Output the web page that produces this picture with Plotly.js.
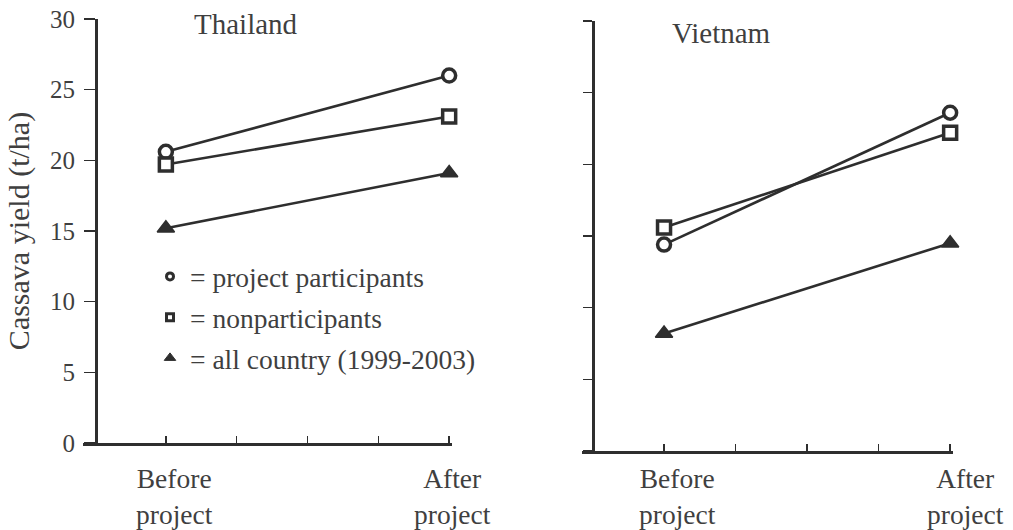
<!DOCTYPE html>
<html>
<head>
<meta charset="utf-8">
<script src="https://cdn.plot.ly/plotly-3.0.1.min.js"></script>
<style>
  html, body { margin: 0; padding: 0; background: #fff; }
  #chart { width: 1013px; height: 530px; }
</style>
</head>
<body>
<div id="chart"></div>
<script>
// Cassava yield before and after the project, two countries
const stages = ['Before<br>project', 'After<br>project'];
const panelTitles = ['Thailand', 'Vietnam'];
const seriesNames = ['= project participants', '= nonparticipants', '= all country (1999-2003)'];

const thailandParticipants = [20.6, 26.0];
const thailandNonparticipants = [19.7, 23.1];
const thailandAllCountry = [15.2, 19.1];

const vietnamParticipants = [14.4, 23.6];
const vietnamNonparticipants = [15.6, 22.2];
const vietnamAllCountry = [8.2, 14.5];

const yTickValues = [0, 5, 10, 15, 20, 25, 30];

// stage index -> position on the 0..5 axis (before = 1, after = 5)
const stageX = stages.map((_, i) => 1 + 4 * i);

const INK = '#2e2e2e';
const TEXT = '#3f3f3f';
const FONT = 'Liberation Serif, Times New Roman, serif';

const markerStyles = [
  { symbol: 'circle', size: 13, color: '#fff', line: { color: INK, width: 3.5 } },
  { symbol: 'square', size: 13, color: '#fff', line: { color: INK, width: 3.5 } },
  { symbol: 'triangle-up', size: 15, color: INK, line: { color: INK, width: 1.5 } }
];
const legendMarkers = [
  { symbol: 'circle', size: 7, color: '#fff', line: { color: INK, width: 3 } },
  { symbol: 'square', size: 7, color: '#fff', line: { color: INK, width: 3 } },
  { symbol: 'triangle-up', size: 10, color: INK, line: { color: INK, width: 1 } }
];

const panels = [
  { xa: 'x', ya: 'y', series: [thailandParticipants, thailandNonparticipants, thailandAllCountry] },
  { xa: 'x2', ya: 'y2', series: [vietnamParticipants, vietnamNonparticipants, vietnamAllCountry] }
];

const traces = [];
panels.forEach(p => {
  p.series.forEach((vals, k) => {
    traces.push({
      type: 'scatter', mode: 'lines+markers',
      x: stageX, y: vals, xaxis: p.xa, yaxis: p.ya,
      line: { color: INK, width: 2.6 },
      marker: markerStyles[k], cliponaxis: false,
      showlegend: false, hoverinfo: 'y'
    });
  });
});
// key entries (marker only)
seriesNames.forEach((name, k) => {
  traces.push({
    type: 'scatter', mode: 'markers', x: [null], y: [null],
    name: name, legendgroup: 'g' + k, marker: legendMarkers[k],
    showlegend: true, hoverinfo: 'skip'
  });
});

const W = 1013, H = 530;
const px = v => v / W;
const py = v => 1 - v / H;

const baseX = {
  showgrid: false, zeroline: false, showline: true, linecolor: INK, linewidth: 2.5,
  ticks: 'inside', ticklen: 7, tickwidth: 1.5, tickcolor: INK,
  tickvals: [1, 2, 3, 4, 5], showticklabels: false, automargin: false, fixedrange: true
};
const baseY = {
  showgrid: false, zeroline: false, showline: true, linecolor: INK, linewidth: 2.8,
  ticks: 'outside', tickwidth: 1.5, tickcolor: INK,
  range: [0, 30], tickvals: yTickValues, automargin: false, fixedrange: true
};

const annotations = [];
// panel titles
annotations.push({ xref: 'paper', yref: 'paper', x: px(192), y: py(24), xanchor: 'left', yanchor: 'middle',
  text: panelTitles[0], showarrow: false, font: { family: FONT, size: 29, color: TEXT } });
annotations.push({ xref: 'paper', yref: 'paper', x: px(670), y: py(33), xanchor: 'left', yanchor: 'middle',
  text: panelTitles[1], showarrow: false, font: { family: FONT, size: 29, color: TEXT } });
// stage labels under each panel
const labelShift = [[9, 3], [13, 15]];
['x', 'x2'].forEach((xr, pi) => {
  stages.forEach((s, i) => {
    annotations.push({ xref: xr, yref: 'paper', x: stageX[i], y: py(496), xanchor: 'center', yanchor: 'middle',
      xshift: labelShift[pi][i], text: s, showarrow: false,
      font: { family: FONT, size: 27.5, color: TEXT } });
  });
});

const layout = {
  width: W, height: H,
  margin: { l: 0, r: 0, t: 0, b: 0, pad: 0 },
  paper_bgcolor: '#fff', plot_bgcolor: 'rgba(0,0,0,0)',
  font: { family: FONT, color: TEXT },
  xaxis: Object.assign({}, baseX, { domain: [px(83), px(452)], range: [-0.17, 5.04], anchor: 'y' }),
  yaxis: Object.assign({}, baseY, {
    domain: [py(443), py(19)], anchor: 'free', position: px(96),
    ticklen: 11, ticklabelstandoff: 4,
    tickfont: { family: FONT, size: 25, color: TEXT },
    title: { text: 'Cassava yield (t/ha)', font: { family: FONT, size: 30, color: TEXT }, standoff: 10 }
  }),
  xaxis2: Object.assign({}, baseX, { domain: [px(582), px(953)], range: [-0.147, 5.04], anchor: 'y2' }),
  yaxis2: Object.assign({}, baseY, {
    domain: [py(451), py(21)], anchor: 'free', position: px(593),
    ticklen: 9, showticklabels: false
  }),
  showlegend: true,
  legend: {
    x: px(150), y: py(252), xanchor: 'left', yanchor: 'top',
    bgcolor: 'rgba(0,0,0,0)', borderwidth: 0,
    font: { family: FONT, size: 27.5, color: TEXT },
    tracegroupgap: 2, itemwidth: 30
  },
  annotations: annotations
};

Plotly.newPlot('chart', traces, layout, { displayModeBar: false, staticPlot: true });
</script>
</body>
</html>
